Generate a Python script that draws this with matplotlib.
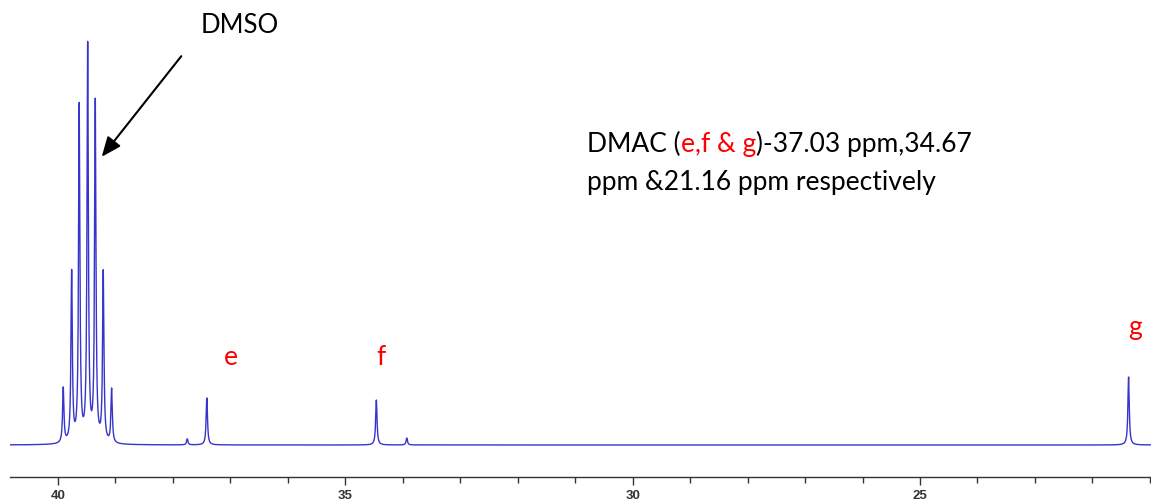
import matplotlib
matplotlib.use("Agg")
import matplotlib.pyplot as plt
import numpy as np

# 13C NMR peaks: (ppm, height in arbitrary units)
dmso_ppm = [39.908, 39.762, 39.630, 39.483, 39.351, 39.212, 39.066]
dmso_height = [55, 170, 336, 396, 340, 170, 54]
dmac_ppm = [37.41, 34.46, 21.37]
dmac_height = [47, 45, 68]
minor_ppm = [37.75, 33.93]
minor_height = [6, 7]

peak_ppm = dmso_ppm + dmac_ppm + minor_ppm
peak_height = dmso_height + dmac_height + minor_height
gamma = 0.014  # lorentzian half width, ppm

ppm = np.linspace(20.9, 40.9, 12000)
spectrum = np.zeros_like(ppm)
for p, h in zip(peak_ppm, peak_height):
    spectrum += h * gamma**2 / ((ppm - p)**2 + gamma**2)

W, H = 1151, 502
fig = plt.figure(figsize=(W / 100, H / 100), dpi=100)
ax = fig.add_axes([10 / W, 24 / H, 1141 / W, 478 / H])

ax.plot(ppm, spectrum, color="#3535cc", lw=1.0)
ax.set_xlim(40.835, 20.98)
ax.set_ylim(-32, 446)

for s in ["top", "left", "right"]:
    ax.spines[s].set_visible(False)
ax.spines["bottom"].set_color("#333333")
ax.spines["bottom"].set_linewidth(1.0)
ax.set_yticks([])
ax.set_xticks([40, 35, 30, 25])
ax.set_xticks(np.arange(21, 41, 1), minor=True)
ax.tick_params(axis="x", which="major", length=6, width=1, color="#333333", pad=3,
               labelsize=9.5)
ax.tick_params(axis="x", which="minor", length=4, width=1, color="#333333")
for lab in ax.get_xticklabels():
    lab.set_fontweight("bold")
    lab.set_color("#333333")
    lab.set_family("Liberation Sans")

font = "Lato"
fs = 19
tr = fig.transFigure
# px -> figure coords helper
def fx(x): return x / W
def fy(y): return 1 - y / H

fig.text(fx(240), fy(33), "DMSO", family=font, fontsize=fs - 0.5, ha="center", va="baseline")
ax.annotate("", xy=(fx(100), fy(160)), xycoords=tr, xytext=(fx(183), fy(55)), textcoords=tr,
            arrowprops=dict(arrowstyle="-|>,head_length=1.2,head_width=0.5", color="black", lw=1.5))

t1 = fig.text(fx(587), fy(152), "DMAC (", family=font, fontsize=fs, va="baseline")
t2 = ax.annotate("e,f & g", xy=(1, 0), xycoords=t1, va="bottom", ha="left",
                 family=font, fontsize=fs, color="red")
t3 = ax.annotate(")-37.03 ppm,34.67", xy=(1, 0), xycoords=t2, va="bottom", ha="left",
                 family=font, fontsize=fs)
fig.text(fx(587), fy(190), "ppm &21.16 ppm respectively", family=font, fontsize=fs, va="baseline")

for lbl, x, y in [("e", 231, 365), ("f", 381, 365), ("g", 1135, 335)]:
    fig.text(fx(x), fy(y), lbl, family=font, fontsize=fs, color="red", ha="center", va="baseline")

fig.savefig("out.png", dpi=100)
